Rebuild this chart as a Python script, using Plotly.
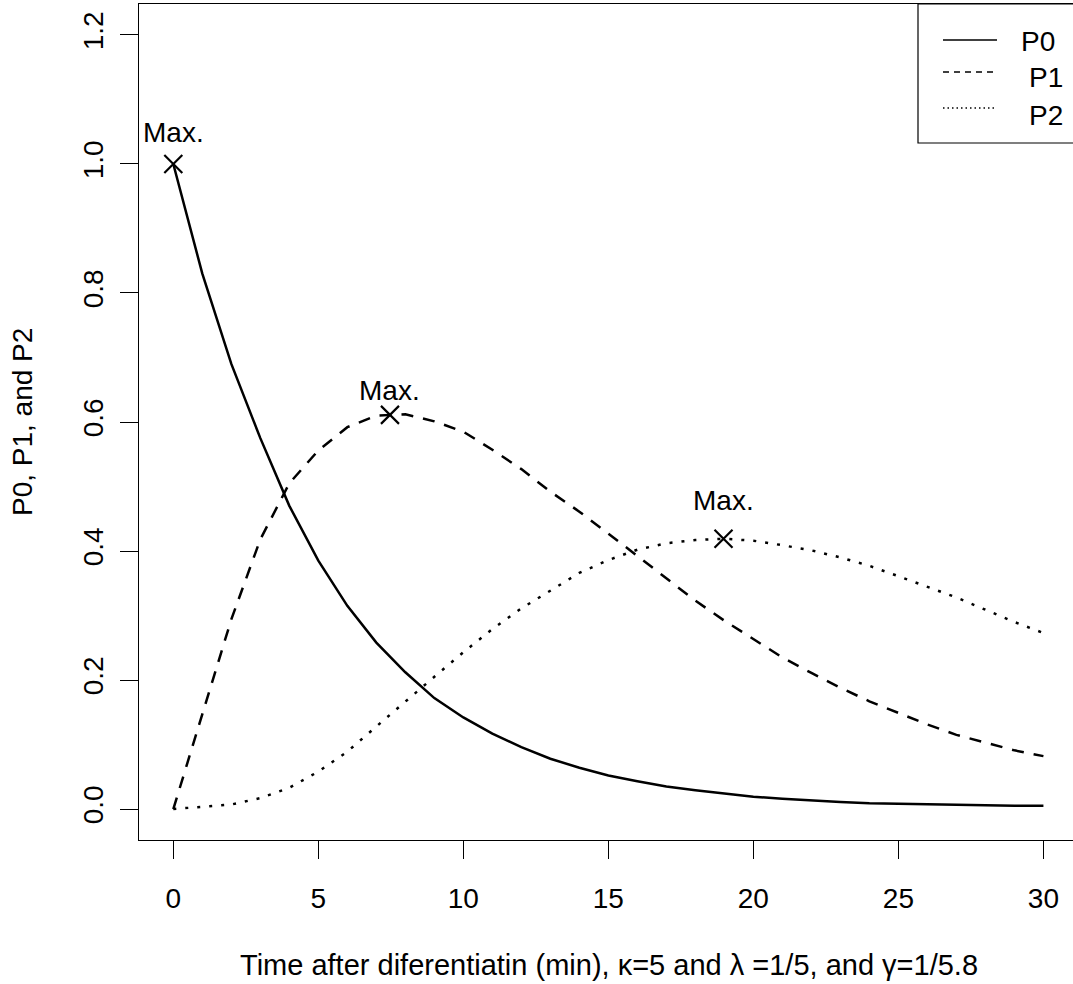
import plotly.graph_objects as go

# Time after differentiation (min)
t = list(range(31))

# P0: probability of state 0
p0 = [1.000, 0.830, 0.690, 0.575, 0.470, 0.385, 0.315, 0.258, 0.212, 0.172,
      0.142, 0.117, 0.096, 0.078, 0.064, 0.052, 0.043, 0.035, 0.029, 0.024,
      0.019, 0.016, 0.013, 0.011, 0.009, 0.008, 0.007, 0.006, 0.006, 0.005,
      0.005]

# P1: probability of state 1
p1 = [0.000, 0.148, 0.294, 0.418, 0.505, 0.556, 0.592, 0.610, 0.612, 0.601,
      0.585, 0.557, 0.527, 0.492, 0.461, 0.427, 0.392, 0.357, 0.323, 0.292,
      0.263, 0.235, 0.211, 0.188, 0.167, 0.149, 0.131, 0.115, 0.103, 0.091,
      0.082]

# P2: probability of state 2
p2 = [0.000, 0.003, 0.007, 0.017, 0.033, 0.058, 0.089, 0.128, 0.167, 0.205,
      0.243, 0.279, 0.311, 0.339, 0.366, 0.386, 0.402, 0.412, 0.417, 0.419,
      0.416, 0.409, 0.401, 0.390, 0.377, 0.361, 0.345, 0.328, 0.309, 0.290,
      0.273]

# Maxima of each curve
max_t = [0.0, 7.47, 18.97]
max_v = [1.0, 0.611, 0.419]

x_ticks = [0, 5, 10, 15, 20, 25, 30]
y_ticks = [0.0, 0.2, 0.4, 0.6, 0.8, 1.0, 1.2]

FONT = "Liberation Sans, Arial, sans-serif"
FS = 28
W, H = 1073, 984
ML, MR, MT, MB = 139, 0, 4, 144
PW, PH = W - ML - MR, H - MT - MB


def px_x(px):
    return (px - ML) / PW


def px_y(py):
    return (H - MB - py) / PH


fig = go.Figure()

fig.add_trace(go.Scatter(x=t, y=p0, mode="lines", name="P0",
                         line=dict(color="black", width=2.5)))
fig.add_trace(go.Scatter(x=t, y=p1, mode="lines", name="P1",
                         line=dict(color="black", width=2.5, dash="12px,10px")))
fig.add_trace(go.Scatter(x=t, y=p2, mode="lines", name="P2",
                         line=dict(color="black", width=2.5, dash="3px,9px")))

# Cross at each maximum
fig.add_trace(go.Scatter(x=max_t, y=max_v, mode="markers",
                         marker=dict(symbol="x-thin", size=18, color="black",
                                     line=dict(color="black", width=2.2)),
                         hoverinfo="skip"))

# "Max." labels above the crosses
label_shift = [31, 24, 38]
for mt, mv, sh in zip(max_t, max_v, label_shift):
    fig.add_annotation(x=mt, y=mv, text="Max.", showarrow=False, yshift=sh,
                       xanchor="center", yanchor="middle",
                       font=dict(family=FONT, size=FS, color="black"))

# Axis titles
fig.add_annotation(xref="paper", yref="paper", x=px_x(608.5), y=px_y(965),
                   text="Time after diferentiatin (min), \u03ba=5 and \u03bb =1/5, and \u03b3=1/5.8",
                   showarrow=False, xanchor="center", yanchor="middle",
                   font=dict(family=FONT, size=29, color="black"))
fig.add_annotation(xref="paper", yref="paper", x=px_x(22), y=px_y(422),
                   text="P0, P1, and P2", textangle=-90,
                   showarrow=False, xanchor="center", yanchor="middle",
                   font=dict(family=FONT, size=FS, color="black"))

# Legend box in the top-right corner
fig.add_shape(type="rect", xref="paper", yref="paper",
              x0=px_x(918), x1=px_x(1085), y0=px_y(143), y1=px_y(4),
              line=dict(color="black", width=1.2), fillcolor="white", layer="above")
legend_items = [("P0", "solid", 40, 1019, 41),
                ("P1", "6px,5px", 72, 1027, 78),
                ("P2", "1.5px,3px", 108, 1027, 115)]
for name, dash, ly, tx, ty in legend_items:
    fig.add_shape(type="line", xref="paper", yref="paper",
                  x0=px_x(943), x1=px_x(997), y0=px_y(ly), y1=px_y(ly),
                  line=dict(color="black", width=1.3, dash=dash), layer="above")
    fig.add_annotation(xref="paper", yref="paper", x=px_x(tx), y=px_y(ty),
                       text=name, showarrow=False, xanchor="left", yanchor="middle",
                       font=dict(family=FONT, size=FS, color="black"))

axis_font = dict(family=FONT, size=FS, color="black")
fig.update_xaxes(range=[-1.183, 31.02], tickvals=x_ticks, ticks="outside",
                 ticklen=18, tickwidth=1, tickcolor="black", showline=True,
                 linecolor="black", linewidth=1, mirror=True, showgrid=False,
                 zeroline=False, tickfont=axis_font, ticklabelstandoff=15)
fig.update_yaxes(range=[-0.048, 1.248], tickvals=y_ticks, tickformat=".1f",
                 ticks="outside", ticklen=18, tickwidth=1, tickcolor="black",
                 showline=True, linecolor="black", linewidth=1, mirror=False,
                 showgrid=False, zeroline=False, tickfont=axis_font,
                 tickangle=-90, ticklabelstandoff=6)

fig.update_layout(width=W, height=H, showlegend=False,
                  margin=dict(l=ML, r=MR, t=MT, b=MB, pad=0),
                  plot_bgcolor="white", paper_bgcolor="white",
                  font=dict(family=FONT, size=FS, color="black"))

fig.write_html("out.html")
